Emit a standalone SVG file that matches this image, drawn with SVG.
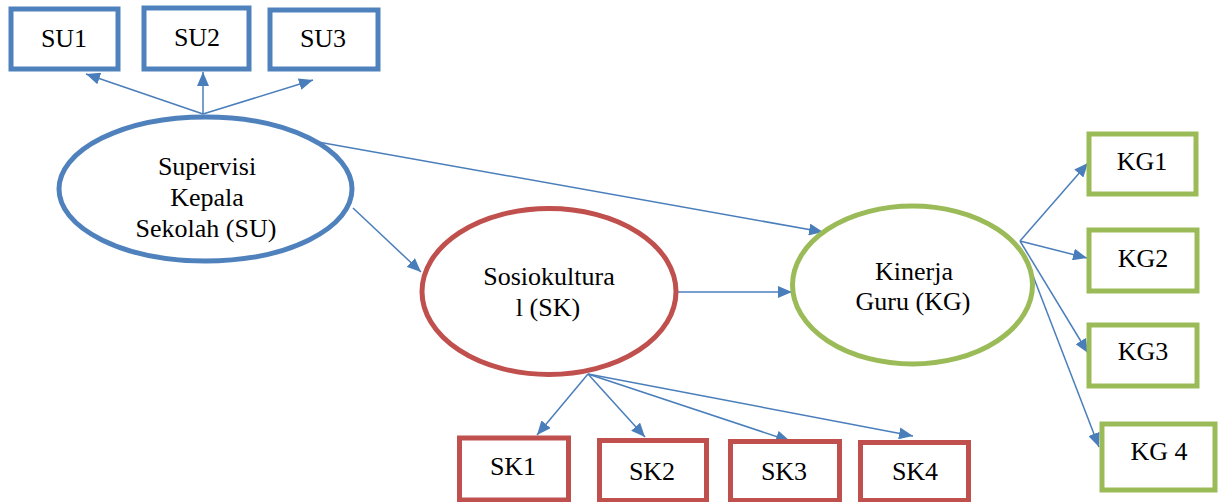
<svg xmlns="http://www.w3.org/2000/svg" width="1218" height="502" viewBox="0 0 1218 502">
<style>
text{font-family:'Liberation Serif','Times New Roman',serif;font-size:26px;fill:#000;text-anchor:middle}
.su{fill:#fff;stroke:#4F81BD;stroke-width:5}
.sk{fill:#fff;stroke:#C0504D;stroke-width:5}
.kg{fill:#fff;stroke:#9BBB59;stroke-width:5}
.c{stroke:#4A7EBB;stroke-width:1.5;fill:none;marker-end:url(#ah)}
</style>
<defs>
<marker id="ah" markerUnits="userSpaceOnUse" markerWidth="15" markerHeight="12" refX="14" refY="6" orient="auto">
<path d="M0,0 L14,6 L0,12 Z" fill="#4A7EBB"/>
</marker>
</defs>
<rect width="1218" height="502" fill="#fff"/>
<g id="connectors">
<line class="c" x1="203" y1="114" x2="86" y2="74"/>
<line class="c" x1="203" y1="114" x2="203" y2="72"/>
<line class="c" x1="203" y1="114" x2="313" y2="80"/>
<line class="c" x1="318" y1="142" x2="823" y2="232"/>
<line class="c" x1="353" y1="208" x2="421" y2="272"/>
<line class="c" x1="678" y1="292" x2="792" y2="292"/>
<line class="c" x1="588" y1="374" x2="537" y2="435"/>
<line class="c" x1="588" y1="374" x2="645" y2="437"/>
<line class="c" x1="588" y1="374" x2="790" y2="441"/>
<line class="c" x1="588" y1="374" x2="913" y2="436"/>
<line class="c" x1="1020" y1="241" x2="1088" y2="163"/>
<line class="c" x1="1020" y1="241" x2="1087" y2="258"/>
<line class="c" x1="1020" y1="241" x2="1088" y2="353"/>
<line class="c" x1="1025" y1="255" x2="1099" y2="447"/>
</g>
<g id="SU">
<ellipse class="su" cx="205.5" cy="189" rx="146.5" ry="72"/>
<text x="207" y="175">Supervisi</text>
<text x="207" y="206">Kepala</text>
<text x="206" y="237">Sekolah (SU)</text>
</g>
<g id="SK">
<ellipse class="sk" cx="549" cy="291.5" rx="127" ry="83"/>
<text x="549" y="285">Sosiokultura</text>
<text x="548" y="316">l (SK)</text>
</g>
<g id="KG">
<ellipse class="kg" cx="912.5" cy="285" rx="120" ry="79"/>
<text x="914" y="280">Kinerja</text>
<text x="913" y="310">Guru (KG)</text>
</g>
<g id="SU1"><rect class="su" x="11" y="9" width="107" height="60"/><text x="64" y="47">SU1</text></g>
<g id="SU2"><rect class="su" x="144" y="8" width="105" height="61"/><text x="197" y="46">SU2</text></g>
<g id="SU3"><rect class="su" x="270" y="10" width="108" height="59"/><text x="323" y="47">SU3</text></g>
<g id="SK1"><rect class="sk" x="459.5" y="438" width="109" height="62"/><text x="513" y="475">SK1</text></g>
<g id="SK2"><rect class="sk" x="599.5" y="440.5" width="107" height="60"/><text x="652" y="480">SK2</text></g>
<g id="SK3"><rect class="sk" x="730.5" y="441.5" width="109" height="59"/><text x="784" y="480">SK3</text></g>
<g id="SK4"><rect class="sk" x="860.5" y="442.5" width="108" height="58"/><text x="915" y="480">SK4</text></g>
<g id="KG1"><rect class="kg" x="1089" y="134" width="107" height="60"/><text x="1142" y="170">KG1</text></g>
<g id="KG2"><rect class="kg" x="1089" y="230" width="108" height="61"/><text x="1143" y="267">KG2</text></g>
<g id="KG3"><rect class="kg" x="1089" y="325" width="108" height="61"/><text x="1143" y="360">KG3</text></g>
<g id="KG4"><rect class="kg" x="1102" y="424" width="113" height="66"/><text x="1159" y="460">KG 4</text></g>
</svg>
